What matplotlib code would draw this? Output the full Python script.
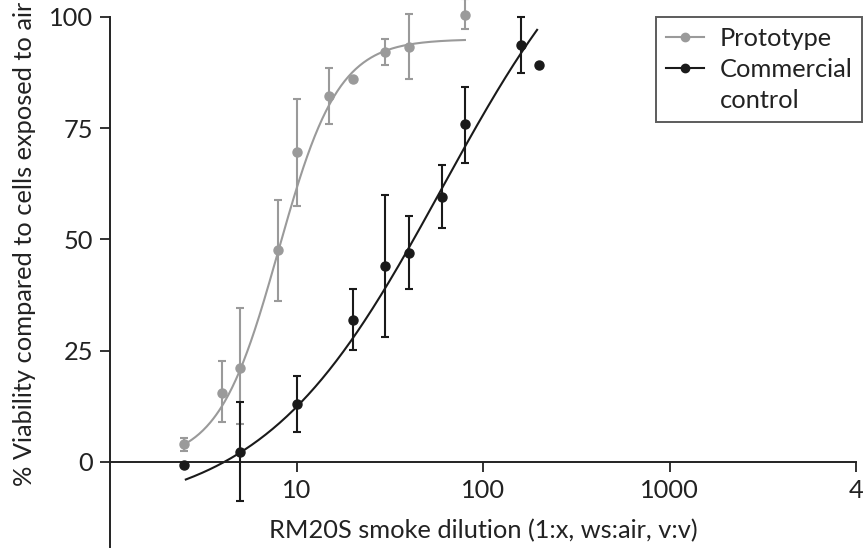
import numpy as np
import matplotlib
matplotlib.use("Agg")
import matplotlib.pyplot as plt
from matplotlib.lines import Line2D

plt.rcParams['font.family'] = ['Lato', 'DejaVu Sans']

# Prototype data
proto_x = [2.5, 4, 5, 8, 10, 15, 20, 30, 40, 80]
proto_y = [4.0, 15.5, 21.1, 47.6, 69.7, 82.3, 86.1, 92.2, 93.3, 100.5]
proto_err_lo = [1.5, 6.5, 12.6, 11.4, 12.2, 6.3, 0.0, 3.0, 7.3, 3.3]
proto_err_hi = [1.4, 7.2, 13.5, 11.3, 11.9, 6.2, 0.0, 2.9, 7.3, 3.6]

# Commercial control data
comm_x = [2.5, 5, 10, 20, 30, 40, 60, 80, 160, 200]
comm_y = [-0.7, 2.2, 13.0, 31.9, 44.0, 47.0, 59.6, 75.9, 93.7, 89.2]
comm_err_lo = [0.0, 11.0, 6.3, 6.7, 15.9, 8.1, 7.0, 8.7, 6.3, 0.0]
comm_err_hi = [0.0, 11.3, 6.3, 7.0, 16.0, 8.3, 7.1, 8.4, 6.3, 0.0]

# fitted 4-parameter logistic curves: bottom, top, log10(EC50), hill
proto_fit = (0.0, 95.0, np.log10(8.0), 2.7)
proto_fit_range = (2.5, 80)
comm_fit = (-12.0, 135.0, 1.78, 0.9)
comm_fit_range = (2.55, 195)

x_ticks = [10, 100, 1000, 10000]
x_ticklabels = ['10', '100', '1000', '4']
y_ticks = [0, 25, 50, 75, 100]

labels = ['Prototype', 'Commercial', 'control']
gray = '#9a9a9a'
black = '#1a1a1a'
FS = 18.3


def logistic(x, p):
    b, t, c, h = p
    return b + (t - b) / (1.0 + 10 ** (h * (c - np.log10(x))))


fig = plt.figure(figsize=(8.65, 5.57), dpi=100)
ax = fig.add_axes([110 / 865, 10 / 557, 746 / 865, 547 / 557])
ax.set_xscale('log')
ax.set_xlim(1, 10000)
ax.set_ylim(-19.1, 103.8)

for xs, ys, lo, hi, fit, rng, col in [
    (proto_x, proto_y, proto_err_lo, proto_err_hi, proto_fit, proto_fit_range, gray),
    (comm_x, comm_y, comm_err_lo, comm_err_hi, comm_fit, comm_fit_range, black),
]:
    xx = np.logspace(np.log10(rng[0]), np.log10(rng[1]), 300)
    ax.plot(xx, logistic(xx, fit), color=col, lw=1.5, zorder=2)
    xs_e = [x for x, l, h in zip(xs, lo, hi) if l + h > 0]
    ys_e = [y for y, l, h in zip(ys, lo, hi) if l + h > 0]
    lo_e = [l for l, h in zip(lo, hi) if l + h > 0]
    hi_e = [h for l, h in zip(lo, hi) if l + h > 0]
    ax.errorbar(xs_e, ys_e, yerr=[lo_e, hi_e], fmt='none', ecolor=col,
                elinewidth=1.5, capsize=3.2, capthick=1.5, zorder=3, clip_on=False)
    ax.plot(xs, ys, 'o', color=col, ms=6.5, zorder=4, clip_on=False)

for s in ['top', 'right']:
    ax.spines[s].set_visible(False)
ax.spines['bottom'].set_position(('data', 0))
ax.spines['left'].set_bounds(-19.1, 100)
for s in ['bottom', 'left']:
    ax.spines[s].set_linewidth(1.4)
    ax.spines[s].set_color('#222222')

ax.set_xticks(x_ticks)
ax.set_xticklabels(x_ticklabels)
ax.xaxis.set_minor_locator(matplotlib.ticker.NullLocator())
ax.set_yticks(y_ticks)
ax.tick_params(axis='both', direction='out', length=7, width=1.3,
               color='#222222', labelsize=FS, labelcolor='#222222')
ax.tick_params(axis='x', pad=5)
ax.tick_params(axis='y', pad=5)

fig.text(483 / 865, 1 - 531 / 557, 'RM20S smoke dilution (1:x, ws:air, v:v)',
         ha='center', va='center', fontsize=FS, color='#222222')
fig.text(25 / 865, 1 - 244 / 557, '% Viability compared to cells exposed to air',
         ha='center', va='center', rotation=90, fontsize=FS, color='#222222')

handles = [Line2D([], [], color=gray, marker='o', ms=6, lw=1.5),
           Line2D([], [], color=black, marker='o', ms=6, lw=1.5),
           Line2D([], [], color='none', lw=0)]
leg = fig.legend(handles, labels, loc='upper right',
                 bbox_to_anchor=(862 / 865, 1 - 17 / 557), fontsize=FS,
                 frameon=True, fancybox=False, handlelength=1.5,
                 handletextpad=0.6, borderpad=0.38, labelspacing=0.33,
                 borderaxespad=0)
leg.get_frame().set_edgecolor('#333333')
leg.get_frame().set_linewidth(1.4)
for t in leg.get_texts():
    t.set_color('#222222')

fig.savefig('out.png', dpi=100)
